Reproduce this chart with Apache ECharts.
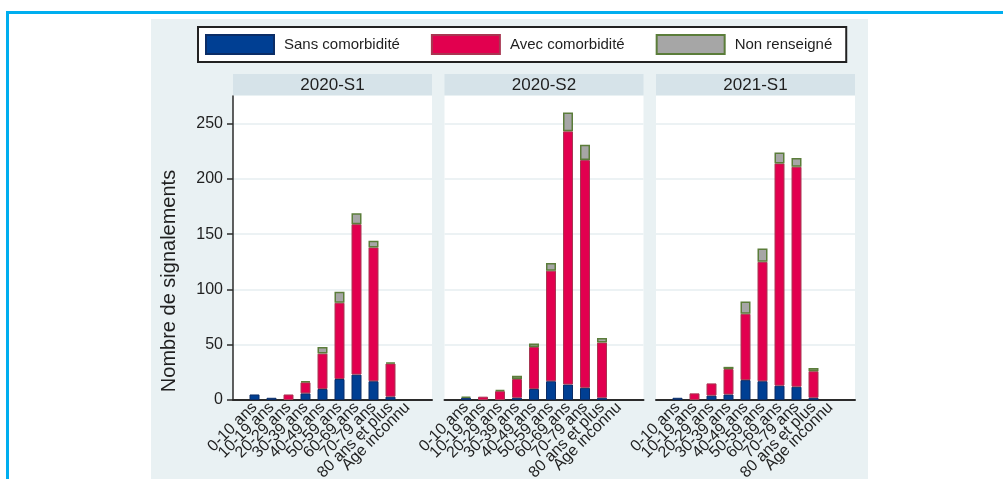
<!DOCTYPE html>
<html>
<head>
<meta charset="utf-8">
<title>Signalements par âge et comorbidité</title>
<script src="https://cdn.jsdelivr.net/npm/echarts@6/dist/echarts.min.js"></script>
<style>
  html, body { margin: 0; padding: 0; background: #fff; }
  #wrap { position: relative; width: 1003px; height: 479px; overflow: hidden; }
  #frame { position: absolute; left: 6px; top: 11px; width: 1100px; height: 500px;
           border-top: 3px solid #00aeef; border-left: 3px solid #00aeef; }
  #panel { position: absolute; left: 151px; top: 19px; width: 717px; height: 460px; background: #e9f1f3; }
  #chart { position: absolute; left: 0; top: 0; width: 1003px; height: 479px; }
</style>
</head>
<body>
<div id="wrap">
  <div id="frame"></div>
  <div id="panel"></div>
  <div id="chart"></div>
</div>
<script>
// categories d'age
const categories = ['0-10 ans', '10-19 ans', '20-29 ans', '30-39 ans', '40-49 ans',
  '50-59 ans', '60-69 ans', '70-79 ans', '80 ans et plus', 'Age inconnu']
const periods = ['2020-S1', '2020-S2', '2021-S1']
const legendNames = ['Sans comorbidité', 'Avec comorbidité', 'Non renseigné']
const yTitle = 'Nombre de signalements'
const yTicks = [0, 50, 100, 150, 200, 250]

// 2020-S1
const sansS1 = [5, 2, 0, 6, 10, 19, 23, 17, 3, 0]
const avecS1 = [0, 0, 5, 10, 32, 69, 136, 121, 30, 0]
const nonRensS1 = [0, 0, 0, 1, 6, 10, 10, 6, 1, 0]
// 2020-S2
const sansS2 = [2, 0, 0, 2, 10, 17, 14, 11, 2, 0]
const avecS2 = [0, 3, 8, 17, 38, 100, 229, 206, 50, 0]
const nonRensS2 = [1, 0, 1, 3, 3, 7, 17, 14, 4, 0]
// 2021-S1
const sans21 = [2, 0, 4, 5, 18, 17, 13, 12, 2, 0]
const avec21 = [0, 6, 11, 23, 60, 108, 201, 199, 24, 0]
const nonRens21 = [0, 0, 0, 2, 11, 12, 10, 8, 3, 0]

const panelData = [
  [sansS1, avecS1, nonRensS1],
  [sansS2, avecS2, nonRensS2],
  [sans21, avec21, nonRens21]
]

const font = "'Liberation Sans', Arial, sans-serif"
const colors = ['#003f93', '#e2004f', '#a6a6a6']
const borders = ['#0b2d66', '#a83652', '#5b7d3a']

const panelLeft = [233, 444.5, 656]
const panelWidth = 199
const plotTop = 96
const plotHeight = 304
const yMax = 275

const grid = []
const xAxis = []
const yAxis = []
const series = []
const graphic = []

panelLeft.forEach((left, p) => {
  // fond blanc, grille et axes du panneau
  grid.push({ left: left, top: plotTop, width: panelWidth, height: plotHeight,
    show: true, backgroundColor: '#fff', borderWidth: 0, outerBoundsMode: 'none' })
  // zone des barres (un peu plus etroite)
  grid.push({ left: left + 13, top: plotTop, width: 170, height: plotHeight, outerBoundsMode: 'none' })

  xAxis.push({
    type: 'category', gridIndex: 2 * p, data: categories,
    axisLine: { lineStyle: { color: '#2b2b2b', width: 2 } },
    axisTick: { show: false }, axisLabel: { show: false }
  })
  xAxis.push({
    type: 'category', gridIndex: 2 * p + 1, data: categories,
    axisLine: { show: false }, axisTick: { show: false },
    axisLabel: { interval: 0, rotate: 45, margin: 5, fontSize: 16, color: '#1f1f1f', fontFamily: font }
  })

  yAxis.push({
    type: 'value', gridIndex: 2 * p, min: 0, max: yMax,
    axisLine: { show: p === 0, lineStyle: { color: '#2b2b2b', width: 1.5 } },
    axisTick: { show: p === 0, length: 6, customValues: yTicks, lineStyle: { color: '#2b2b2b', width: 1.5 } },
    axisLabel: { show: p === 0, customValues: yTicks, margin: 10, fontSize: 16, color: '#1f1f1f', fontFamily: font },
    splitLine: { show: true, lineStyle: { color: '#e6eef1', width: 1.5 } }
  })
  yAxis.push({
    type: 'value', gridIndex: 2 * p + 1, min: 0, max: yMax, show: false,
    splitLine: { show: false }
  })

  panelData[p].forEach((vals, k) => {
    series.push({
      name: legendNames[k],
      type: 'bar',
      stack: 'p' + p,
      xAxisIndex: 2 * p + 1,
      yAxisIndex: 2 * p + 1,
      barWidth: 10,
      data: vals.map(v => (v > 0 ? v : null)),
      itemStyle: { color: colors[k], borderColor: borders[k], borderWidth: k === 2 ? 1.5 : 1 },
      emphasis: { disabled: true }
    })
  })

  // bandeau de titre du panneau
  graphic.push({
    type: 'rect', left: left, top: 74,
    shape: { width: panelWidth, height: 21 },
    style: { fill: '#d6e3e9' }, silent: true
  })
  graphic.push({
    type: 'text', x: left + panelWidth / 2, y: 85,
    style: { text: periods[p], fill: '#1f1f1f', font: '17px ' + font, textAlign: 'center', textVerticalAlign: 'middle' },
    silent: true
  })
})

// titre de l'axe y
graphic.push({
  type: 'text', x: 169, y: 281, rotation: Math.PI / 2,
  style: { text: yTitle, fill: '#1f1f1f', font: '20px ' + font, textAlign: 'center', textVerticalAlign: 'middle' },
  silent: true
})

const chart = echarts.init(document.getElementById('chart'))
chart.setOption({
  animation: false,
  textStyle: { fontFamily: font },
  legend: {
    data: legendNames,
    left: 198, top: 27,
    padding: [7, 14, 7, 7],
    itemWidth: 68, itemHeight: 19, itemGap: 31,
    icon: 'rect',
    selectedMode: false,
    borderColor: '#222', borderWidth: 2, backgroundColor: '#fff',
    textStyle: { fontSize: 15, color: '#1f1f1f', padding: [0, 0, 0, 5] }
  },
  grid: grid,
  xAxis: xAxis,
  yAxis: yAxis,
  series: series,
  graphic: graphic
})
</script>
</body>
</html>
